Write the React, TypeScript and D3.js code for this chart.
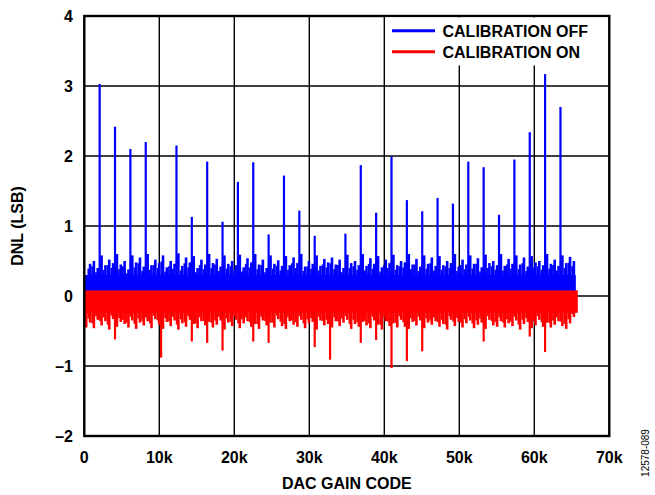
import React from "react";
import * as d3 from "d3";

// ---- data ----
const xTicks = [0, 10000, 20000, 30000, 40000, 50000, 60000, 70000];
const xTickLabels = ["0", "10k", "20k", "30k", "40k", "50k", "60k", "70k"];
const yTicks = [-2, -1, 0, 1, 2, 3, 4];
const yTickLabels = ["–2", "–1", "0", "1", "2", "3", "4"];

const binSize = 512;
// envelope (max) of CALIBRATION OFF noise per 512-code bin
const offNoiseMax = [
  0.30, 0.46, 0.50, 0.40, 0.58, 0.44, 0.52, 0.47,
  0.60, 0.45, 0.50, 0.38, 0.58, 0.48, 0.55, 0.42,
  0.60, 0.44, 0.52, 0.47, 0.58, 0.41, 0.50, 0.46,
  0.61, 0.43, 0.55, 0.48, 0.57, 0.40, 0.52, 0.45,
  0.60, 0.47, 0.53, 0.42, 0.58, 0.46, 0.50, 0.44,
  0.59, 0.41, 0.54, 0.48, 0.60, 0.45, 0.52, 0.40,
  0.58, 0.46, 0.51, 0.43, 0.57, 0.44, 0.55, 0.47,
  0.60, 0.42, 0.50, 0.46, 0.58, 0.43, 0.53, 0.48,
  0.55, 0.45, 0.52, 0.40, 0.59, 0.47, 0.50, 0.44,
  0.60, 0.43, 0.54, 0.46, 0.57, 0.41, 0.52, 0.47,
  0.59, 0.44, 0.50, 0.48, 0.60, 0.45, 0.53, 0.42,
  0.58, 0.46, 0.55, 0.43, 0.57, 0.44, 0.50, 0.47,
  0.60, 0.42, 0.52, 0.45, 0.58, 0.46, 0.54, 0.41,
  0.59, 0.47, 0.50, 0.44, 0.60, 0.43, 0.53, 0.46,
  0.58, 0.45, 0.55, 0.42, 0.57, 0.48, 0.50, 0.44,
  0.60, 0.46, 0.52, 0.43, 0.58, 0.47, 0.56, 0.50,
];
// envelope (min) of CALIBRATION ON noise per 512-code bin
const onNoiseMin = [
  -0.45, -0.38, -0.46, -0.34, -0.42, -0.36, -0.48, -0.33,
  -0.44, -0.37, -0.40, -0.45, -0.35, -0.47, -0.38, -0.42,
  -0.36, -0.46, -0.33, -0.41, -0.47, -0.37, -0.43, -0.35,
  -0.48, -0.39, -0.44, -0.34, -0.40, -0.46, -0.36, -0.42,
  -0.37, -0.45, -0.41, -0.35, -0.48, -0.38, -0.43, -0.34,
  -0.46, -0.39, -0.36, -0.44, -0.40, -0.47, -0.35, -0.42,
  -0.38, -0.45, -0.33, -0.43, -0.47, -0.36, -0.41, -0.44,
  -0.34, -0.46, -0.39, -0.37, -0.48, -0.35, -0.42, -0.40,
  -0.45, -0.36, -0.43, -0.38, -0.34, -0.47, -0.40, -0.44,
  -0.37, -0.42, -0.46, -0.35, -0.41, -0.48, -0.36, -0.43,
  -0.39, -0.45, -0.34, -0.44, -0.47, -0.37, -0.42, -0.35,
  -0.46, -0.38, -0.41, -0.36, -0.44, -0.40, -0.48, -0.34,
  -0.43, -0.37, -0.45, -0.39, -0.35, -0.46, -0.41, -0.38,
  -0.47, -0.34, -0.42, -0.44, -0.36, -0.45, -0.39, -0.43,
  -0.35, -0.48, -0.40, -0.37, -0.46, -0.42, -0.34, -0.44,
  -0.38, -0.45, -0.41, -0.36, -0.43, -0.47, -0.39, -0.30,
];
// major-carry spikes, CALIBRATION OFF
const offSpikeCodes = [
  2048, 4096, 6144, 8192, 12288, 14336, 16384, 18432, 20480, 22528, 24576,
  26624, 28672, 30720, 34816, 36864, 38912, 40960, 43008, 45056, 47104,
  49152, 51200, 53248, 55296, 57344, 59392, 61440, 63488,
];
const offSpikeValues = [
  3.03, 2.42, 2.10, 2.20, 2.15, 1.13, 1.92, 1.06, 1.63, 1.91, 0.88,
  1.72, 1.22, 0.86, 0.89, 1.87, 1.19, 1.99, 1.37, 1.21, 1.40,
  1.32, 1.92, 1.84, 1.16, 1.95, 2.34, 3.17, 2.70,
];
// negative spikes, CALIBRATION ON
const onSpikeCodes = [
  4096, 10240, 14336, 16384, 18432, 22528, 24576, 30720, 32768, 36864,
  38912, 40960, 43008, 45056, 53248, 59392, 61440,
];
const onSpikeValues = [
  -0.62, -0.88, -0.65, -0.67, -0.78, -0.65, -0.67, -0.73, -0.91, -0.67,
  -0.63, -1.03, -0.93, -0.79, -0.65, -0.58, -0.80,
];
const offBandTop = 0.3;
const onBandTop = 0.08;
const onBandBottom = -0.24;
const maxCode = 65535;

const seriesNames = ["CALIBRATION OFF", "CALIBRATION ON"];
const seriesColors = ["#0000ff", "#ff0000"];

export default function App() {
  const W = 655, H = 495;
  const x = d3.scaleLinear().domain([0, 70000]).range([84.3, 609.3]);
  const y = d3.scaleLinear().domain([-2, 4]).range([436, 16]);
  const font = "'Liberation Sans', Arial, sans-serif";

  const offLines = offNoiseMax.map((v, i) => ({ c: i * binSize + binSize / 2, v }));
  const onLines = onNoiseMin.map((v, i) => ({ c: i * binSize + binSize / 2, v }));

  return (
    <svg width={W} height={H} style={{ position: "absolute", left: 0, top: 0, background: "#fff" }}>
      <rect x={0} y={0} width={W} height={H} fill="#fff" />
      {/* grid */}
      {xTicks.map((t) => (
        <line key={"gx" + t} x1={x(t)} x2={x(t)} y1={y(-2)} y2={y(4)} stroke="#000" strokeWidth={1.4} />
      ))}
      {yTicks.map((t) => (
        <line key={"gy" + t} x1={x(0)} x2={x(70000)} y1={y(t)} y2={y(t)} stroke="#000" strokeWidth={1.4} />
      ))}
      {/* CALIBRATION OFF */}
      <rect x={x(0)} y={y(offBandTop)} width={x(maxCode) - x(0)} height={y(0) - y(offBandTop)} fill={seriesColors[0]} />
      {offLines.map((d, i) => (
        <line key={"ol" + i} x1={x(d.c)} x2={x(d.c)} y1={y(0)} y2={y(d.v)} stroke={seriesColors[0]} strokeWidth={2.6} />
      ))}
      {offLines.map((d, i) => (
        <line key={"ol2" + i} x1={x(d.c - 230)} x2={x(d.c - 230)} y1={y(0)} y2={y(d.v * 0.85)} stroke={seriesColors[0]} strokeWidth={1.8} />
      ))}
      {offSpikeCodes.map((c, i) => (
        <line key={"os" + i} x1={x(c)} x2={x(c)} y1={y(0)} y2={y(offSpikeValues[i])} stroke={seriesColors[0]} strokeWidth={2.2} />
      ))}
      {/* CALIBRATION ON */}
      <rect x={x(0)} y={y(onBandTop)} width={x(maxCode) - x(0) + 2} height={y(onBandBottom) - y(onBandTop)} fill={seriesColors[1]} />
      {onLines.map((d, i) => (
        <line key={"nl" + i} x1={x(d.c)} x2={x(d.c)} y1={y(0)} y2={y(d.v)} stroke={seriesColors[1]} strokeWidth={2.6} />
      ))}
      {onLines.map((d, i) => (
        <line key={"nl2" + i} x1={x(d.c - 230)} x2={x(d.c - 230)} y1={y(0)} y2={y(d.v * 0.85)} stroke={seriesColors[1]} strokeWidth={1.8} />
      ))}
      {onSpikeCodes.map((c, i) => (
        <line key={"ns" + i} x1={x(c)} x2={x(c)} y1={y(0)} y2={y(onSpikeValues[i])} stroke={seriesColors[1]} strokeWidth={2.2} />
      ))}
      {/* frame */}
      <rect x={x(0)} y={y(4)} width={x(70000) - x(0)} height={y(-2) - y(4)} fill="none" stroke="#000" strokeWidth={2.4} />
      {/* legend */}
      <rect x={386} y={17.5} width={222} height={48} fill="#fff" />
      {seriesNames.map((n, i) => (
        <g key={n}>
          <line x1={392} x2={435} y1={30.7 + i * 21} y2={30.7 + i * 21} stroke={seriesColors[i]} strokeWidth={3} />
          <text x={442.5} y={36.5 + i * 21} fontFamily={font} fontWeight="bold" fontSize={16} fill="#000">{n}</text>
        </g>
      ))}
      {/* tick labels */}
      {xTicks.map((t, i) => (
        <text key={"xt" + t} x={x(t)} y={463} textAnchor="middle" fontFamily={font} fontWeight="bold" fontSize={16} fill="#000">{xTickLabels[i]}</text>
      ))}
      {yTicks.map((t, i) => (
        <text key={"yt" + t} x={73} y={y(t) + 5.5} textAnchor="end" fontFamily={font} fontWeight="bold" fontSize={16} fill="#000">{yTickLabels[i]}</text>
      ))}
      <text x={346.8} y={489} textAnchor="middle" fontFamily={font} fontWeight="bold" fontSize={16} fill="#000">DAC GAIN CODE</text>
      <text transform={`translate(22.5,${y(1)}) rotate(-90)`} textAnchor="middle" fontFamily={font} fontWeight="bold" fontSize={16} fill="#000">DNL (LSB)</text>
      <text transform="translate(649,453) rotate(-90)" textAnchor="middle" fontFamily={font} fontSize={10} fill="#000">12578-089</text>
    </svg>
  );
}
